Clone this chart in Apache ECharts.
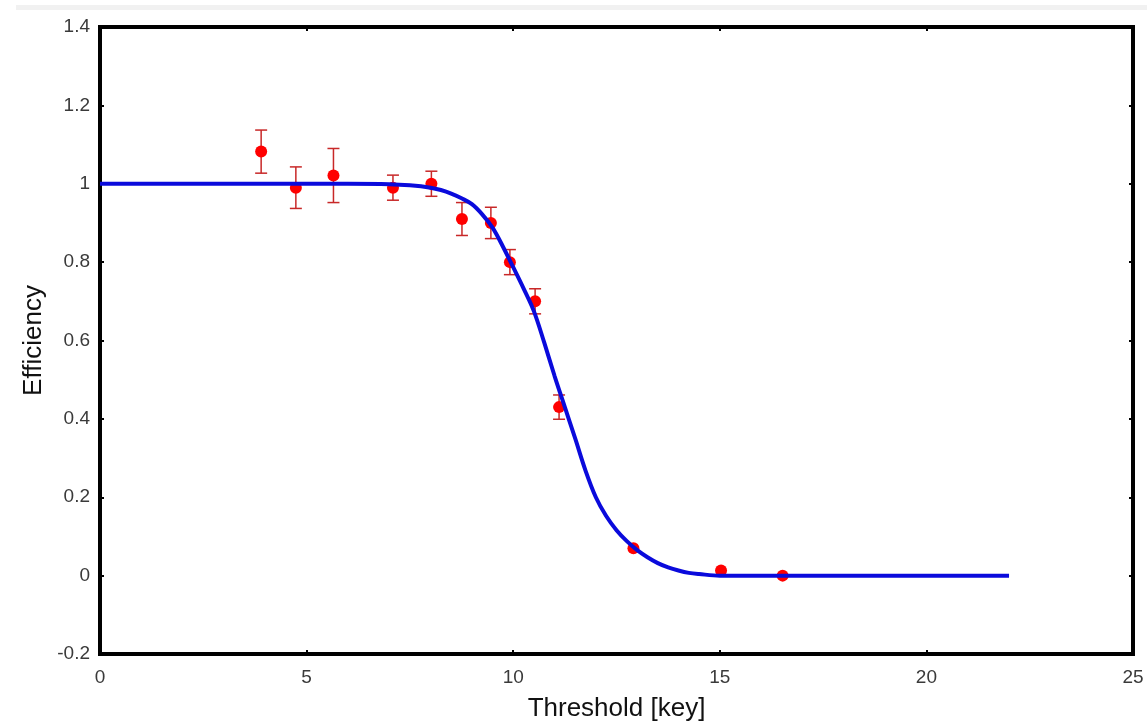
<!DOCTYPE html>
<html>
<head>
<meta charset="utf-8">
<script src="https://cdn.jsdelivr.net/npm/echarts@6/dist/echarts.min.js"></script>
<style>
html,body{margin:0;padding:0;background:#fff;}
#chart{width:1147px;height:727px;}
</style>
</head>
<body>
<div id="chart"></div>
<script>
// Measured points
const pointX = [3.90, 4.74, 5.65, 7.09, 8.02, 8.76, 9.46, 9.92, 10.53, 11.11, 12.91, 15.03, 16.52];
const pointY = [1.082, 0.99, 1.021, 0.99, 1.0, 0.91, 0.90, 0.80, 0.70, 0.43, 0.07, 0.013, 0.0];
const pointErr = [0.055, 0.053, 0.069, 0.032, 0.032, 0.042, 0.04, 0.032, 0.032, 0.031, 0, 0, 0];

// Fitted curve
const curveX = [0, 2, 4, 6, 7, 7.5, 8, 8.25, 8.5, 8.75, 9, 9.25, 9.5, 9.75, 10, 10.25, 10.5, 10.75, 11, 11.25, 11.5, 11.75, 12, 12.25, 12.5, 12.75, 13, 13.25, 13.5, 13.75, 14, 14.25, 14.5, 15, 16, 18, 20, 22];
const curveY = [1.0, 1.0, 1.0, 1.0, 0.999, 0.996, 0.99, 0.984, 0.975, 0.963, 0.948, 0.922, 0.888, 0.84, 0.787, 0.733, 0.675, 0.595, 0.51, 0.43, 0.35, 0.268, 0.2, 0.152, 0.116, 0.088, 0.065, 0.047, 0.032, 0.021, 0.013, 0.007, 0.004, 0.0, 0.0, 0.0, 0.0, 0.0];

const xTicks = [0, 5, 10, 15, 20, 25];
const yTicks = [-0.2, 0, 0.2, 0.4, 0.6, 0.8, 1, 1.2, 1.4];

const points = pointX.map((x, i) => [x, pointY[i]]);
const errData = pointX.map((x, i) => [x, pointY[i] - pointErr[i], pointY[i] + pointErr[i]]);
const curve = curveX.map((x, i) => [x, curveY[i]]);

const labelFont = {fontFamily: 'Liberation Sans', fontSize: 19, color: '#3a3a3a'};
const nameFont = {fontFamily: 'Liberation Sans', fontSize: 26, color: '#111'};
const tickStyle = {show: true, inside: true, length: 4, lineStyle: {color: '#000', width: 2}};

const chart = echarts.init(document.getElementById('chart'), null, {renderer: 'canvas'});
chart.setOption({
  animation: false,
  backgroundColor: '#fff',
  graphic: [{type: 'rect', shape: {x: 16, y: 5, width: 1131, height: 5}, style: {fill: '#f1f1f1'}, z: -10}],
  grid: {left: 100, right: 14, top: 27, bottom: 69, show: true, borderColor: '#000', borderWidth: 4, backgroundColor: 'transparent'},
  xAxis: [{
    type: 'value', min: 0, max: 25, interval: 5,
    name: 'Threshold [key]', nameLocation: 'middle', nameGap: 42, nameTextStyle: nameFont,
    axisLine: {show: false, onZero: false},
    axisTick: tickStyle,
    axisLabel: Object.assign({margin: 14, formatter: v => String(v)}, labelFont),
    splitLine: {show: false}
  }, {
    type: 'value', position: 'top', min: 0, max: 25, interval: 5,
    axisLine: {show: false, onZero: false},
    axisTick: tickStyle,
    axisLabel: {show: false}, splitLine: {show: false}
  }],
  yAxis: [{
    type: 'value', min: -0.2, max: 1.4, interval: 0.2,
    name: 'Efficiency', nameLocation: 'middle', nameGap: 52, nameTextStyle: nameFont,
    axisLine: {show: false, onZero: false},
    axisTick: tickStyle,
    axisLabel: Object.assign({margin: 10, formatter: v => String(Math.round(v * 10) / 10)}, labelFont),
    splitLine: {show: false}
  }, {
    type: 'value', position: 'right', min: -0.2, max: 1.4, interval: 0.2,
    axisLine: {show: false, onZero: false},
    axisTick: tickStyle,
    axisLabel: {show: false}, splitLine: {show: false}
  }],
  series: [{
    type: 'custom',
    data: errData,
    z: 2,
    renderItem: function (params, api) {
      const x = api.value(0);
      const lo = api.coord([x, api.value(1)]);
      const hi = api.coord([x, api.value(2)]);
      if (Math.abs(hi[1] - lo[1]) < 1) return null;
      const w = 6;
      const style = {stroke: '#c82828', lineWidth: 1.5};
      return {type: 'group', children: [
        {type: 'line', shape: {x1: lo[0], y1: lo[1], x2: hi[0], y2: hi[1]}, style: style},
        {type: 'line', shape: {x1: lo[0] - w, y1: lo[1], x2: lo[0] + w, y2: lo[1]}, style: style},
        {type: 'line', shape: {x1: hi[0] - w, y1: hi[1], x2: hi[0] + w, y2: hi[1]}, style: style}
      ]};
    }
  }, {
    type: 'scatter',
    data: points,
    symbol: 'circle',
    symbolSize: 12,
    itemStyle: {color: '#ff0000', opacity: 1},
    z: 3
  }, {
    type: 'line',
    data: curve,
    showSymbol: false,
    smooth: 0.35,
    lineStyle: {color: '#0a0adc', width: 4},
    z: 4
  }]
});
</script>
</body>
</html>
